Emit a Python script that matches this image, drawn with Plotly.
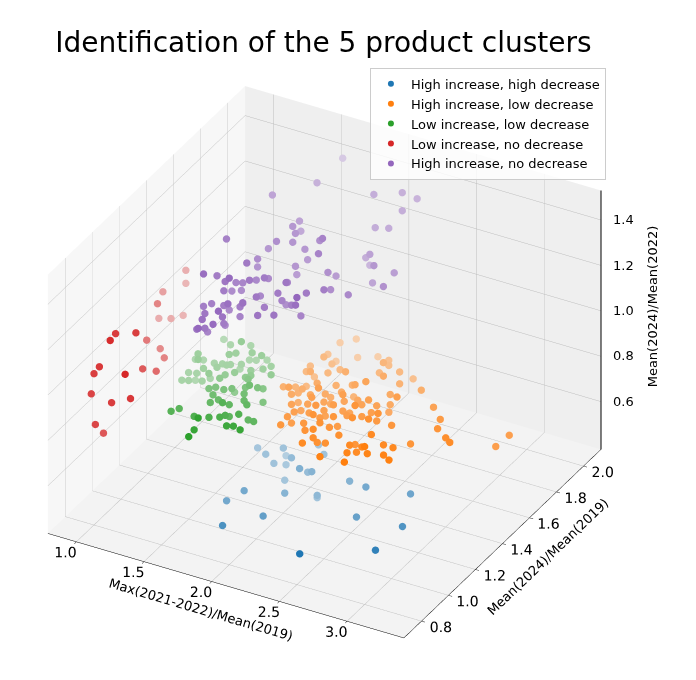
import plotly.graph_objects as go

# cluster 0 : high increase, high decrease
hh_x = [1.75, 1.82, 1.91, 1.89, 2.00, 1.88, 1.93, 2.11, 2.17, 2.11, 2.09, 2.15, 1.96, 1.86,
        1.78, 2.05, 2.22, 2.18, 2.05, 1.89, 2.48, 2.40, 2.54, 2.57, 2.90, 2.86, 2.82]
hh_y = [1.26, 1.25, 1.29, 1.33, 1.26, 1.25, 1.29, 1.21, 1.24, 1.27, 1.37, 1.35, 1.25, 1.05,
        1.00, 1.16, 1.23, 1.27, 1.00, 0.86, 0.84, 1.29, 1.27, 1.17, 1.18, 1.02, 1.32]
hh_z = [0.60, 0.59, 0.61, 0.55, 0.60, 0.56, 0.54, 0.60, 0.58, 0.55, 0.61, 0.59, 0.50, 0.55,
        0.52, 0.51, 0.49, 0.45, 0.50, 0.51, 0.50, 0.55, 0.56, 0.49, 0.50, 0.48, 0.55]

# cluster 1 : high increase, low decrease
hl_x = [1.93, 2.00, 1.93, 1.99, 2.01, 1.95, 1.90, 2.05, 2.16, 2.31, 2.34, 2.36, 1.91, 2.00,
        2.04, 2.09, 2.20, 1.92, 2.33, 2.44, 2.44, 2.49, 1.87, 1.97, 1.90, 1.99, 1.93, 2.08,
        2.17, 2.16, 2.25, 2.33, 2.40, 2.51, 2.67, 1.96, 1.95, 2.07, 2.16, 2.15, 2.16, 2.23,
        2.32, 2.26, 2.37, 2.47, 2.52, 2.64, 2.02, 1.98, 2.11, 2.23, 2.19, 2.20, 2.30, 2.30,
        2.48, 2.42, 2.51, 2.54, 2.84, 2.08, 2.07, 2.17, 2.27, 2.24, 2.35, 2.36, 2.52, 2.63,
        2.55, 2.07, 2.26, 2.24, 2.37, 2.40, 2.49, 2.61, 2.08, 2.09, 2.20, 2.33, 2.51, 2.60,
        2.71, 2.95, 2.99, 2.25, 2.33, 2.37, 2.37, 2.47, 2.34, 2.35, 2.69, 2.31, 2.40, 2.59,
        2.55, 2.67, 2.75, 2.78, 2.85, 2.86, 3.09, 3.14, 2.49, 2.62, 2.63, 2.74, 2.84, 2.90,
        2.66, 3.29, 3.34]
hl_y = [1.69, 1.74, 1.60, 1.51, 1.55, 1.64, 1.50, 1.70, 1.74, 1.67, 1.64, 1.58, 1.46, 1.40,
        1.49, 1.53, 1.46, 1.51, 1.58, 1.50, 1.62, 1.67, 1.33, 1.27, 1.39, 1.35, 1.44, 1.37,
        1.29, 1.43, 1.46, 1.40, 1.41, 1.55, 1.55, 1.30, 1.36, 1.33, 1.25, 1.36, 1.39, 1.40,
        1.32, 1.46, 1.38, 1.36, 1.47, 1.40, 1.24, 1.33, 1.27, 1.21, 1.31, 1.35, 1.27, 1.35,
        1.25, 1.36, 1.38, 1.45, 1.47, 1.20, 1.26, 1.22, 1.15, 1.26, 1.29, 1.33, 1.33, 1.27,
        1.43, 1.16, 1.21, 1.27, 1.20, 1.27, 1.29, 1.22, 1.10, 1.17, 1.15, 1.14, 1.20, 1.29,
        1.29, 1.41, 1.35, 1.11, 1.09, 1.17, 1.23, 1.14, 1.08, 1.10, 1.16, 1.03, 1.11, 1.10,
        1.18, 1.11, 1.05, 1.16, 1.16, 1.28, 1.31, 1.29, 0.98, 1.05, 1.11, 1.08, 1.10, 1.08,
        0.99, 1.48, 1.53]
hl_z = [0.85, 0.85, 0.85, 0.90, 0.85, 0.80, 0.85, 0.80, 0.80, 0.85, 0.85, 0.90, 0.85, 0.90,
        0.85, 0.85, 0.90, 0.80, 0.85, 0.90, 0.85, 0.80, 0.85, 0.90, 0.82, 0.85, 0.80, 0.88,
        0.92, 0.85, 0.85, 0.90, 0.92, 0.85, 0.85, 0.85, 0.82, 0.85, 0.90, 0.85, 0.82, 0.85,
        0.90, 0.80, 0.85, 0.88, 0.85, 0.90, 0.85, 0.80, 0.85, 0.90, 0.85, 0.82, 0.88, 0.85,
        0.92, 0.85, 0.85, 0.82, 0.85, 0.85, 0.82, 0.85, 0.90, 0.85, 0.85, 0.82, 0.85, 0.90,
        0.80, 0.85, 0.85, 0.82, 0.88, 0.85, 0.85, 0.90, 0.85, 0.82, 0.85, 0.88, 0.90, 0.85,
        0.85, 0.85, 0.85, 0.85, 0.88, 0.85, 0.82, 0.85, 0.85, 0.82, 0.88, 0.85, 0.82, 0.85,
        0.80, 0.85, 0.90, 0.85, 0.85, 0.80, 0.85, 0.85, 0.85, 0.85, 0.82, 0.85, 0.85, 0.85,
        0.85, 0.75, 0.78]

# cluster 2 : low increase, low decrease
ll_x = [1.32, 1.39, 1.50, 1.51, 1.26, 1.28, 1.44, 1.47, 1.56, 1.63, 1.21, 1.26, 1.34, 1.39,
        1.44, 1.50, 1.52, 1.56, 1.62, 1.31, 1.38, 1.42, 1.48, 1.65, 1.68, 1.21, 1.26, 1.37,
        1.47, 1.51, 1.59, 1.23, 1.19, 1.24, 1.31, 1.34, 1.46, 1.60, 1.62, 1.64, 1.73, 1.46,
        1.49, 1.55, 1.59, 1.56, 1.66, 1.71, 1.73, 1.74, 1.52, 1.58, 1.66, 1.69, 1.73, 1.78,
        1.55, 1.67, 1.77, 1.38, 1.41, 1.54, 1.64, 1.63, 1.69, 1.71, 1.70, 1.78, 1.80, 1.84,
        1.78, 1.82, 1.88, 1.62, 1.63]
ll_y = [1.44, 1.42, 1.39, 1.45, 1.31, 1.29, 1.36, 1.38, 1.41, 1.41, 1.34, 1.35, 1.35, 1.36,
        1.37, 1.39, 1.43, 1.44, 1.46, 1.30, 1.33, 1.36, 1.40, 1.40, 1.43, 1.29, 1.30, 1.28,
        1.30, 1.33, 1.37, 1.27, 1.26, 1.31, 1.29, 1.32, 1.27, 1.32, 1.34, 1.30, 1.38, 1.19,
        1.21, 1.21, 1.23, 1.28, 1.26, 1.24, 1.28, 1.31, 1.16, 1.14, 1.09, 1.22, 1.18, 1.27,
        1.11, 1.13, 1.16, 0.99, 1.02, 1.00, 0.93, 1.02, 1.04, 1.06, 1.10, 1.09, 1.14, 1.14,
        1.00, 1.01, 1.00, 0.92, 0.87]
ll_z = [0.90, 0.90, 0.95, 0.90, 0.90, 0.89, 0.90, 0.90, 0.90, 0.90, 0.85, 0.85, 0.85, 0.85,
        0.85, 0.85, 0.85, 0.85, 0.85, 0.85, 0.85, 0.85, 0.82, 0.85, 0.85, 0.82, 0.82, 0.85,
        0.85, 0.85, 0.85, 0.80, 0.80, 0.78, 0.80, 0.80, 0.85, 0.85, 0.85, 0.86, 0.85, 0.85,
        0.85, 0.85, 0.85, 0.80, 0.85, 0.88, 0.85, 0.83, 0.85, 0.85, 0.88, 0.85, 0.85, 0.80,
        0.85, 0.85, 0.85, 0.85, 0.85, 0.85, 0.90, 0.85, 0.85, 0.85, 0.82, 0.85, 0.80, 0.80,
        0.85, 0.85, 0.85, 0.85, 0.85]

# cluster 3 : low increase, no decrease
ln_x = [1.10, 1.11, 1.03, 1.07, 1.03, 1.10, 1.15, 1.01, 1.02, 1.12, 1.09, 1.15, 1.20, 0.98,
        0.95, 1.17, 1.17, 1.22, 0.96, 1.10, 1.21, 1.03, 1.06]
ln_y = [1.38, 1.37, 1.28, 1.20, 1.25, 1.27, 1.31, 0.95, 0.90, 0.99, 1.10, 1.14, 1.12, 0.86,
        0.85, 0.86, 0.99, 1.04, 0.82, 0.83, 0.86, 0.78, 0.81]
ln_z = [1.20, 1.15, 1.15, 1.15, 1.05, 1.05, 1.05, 1.15, 1.15, 1.15, 1.05, 1.00, 0.98, 1.05,
        1.02, 1.05, 1.00, 0.97, 0.95, 0.93, 0.95, 0.85, 0.80]

# cluster 4 : high increase, no decrease
hn_x = [1.48, 1.51, 1.53, 1.55, 1.58, 1.55, 1.64, 1.63, 1.59, 1.67, 1.58, 1.65, 1.69, 1.75,
        1.68, 1.79, 1.84, 1.93, 1.89, 1.94, 1.89, 1.97, 2.06, 1.57, 1.59, 1.59, 1.63, 1.55,
        1.60, 1.72, 1.69, 1.79, 1.75, 1.82, 2.05, 2.05, 1.88, 1.74, 2.05, 2.13, 2.10, 2.23,
        1.68, 1.87, 2.09, 1.66, 1.83, 2.02, 1.51, 1.52, 1.58, 1.48, 1.67, 1.64, 1.62, 1.83,
        1.49, 1.51, 1.66, 1.64, 1.52, 1.70, 1.70, 1.72, 1.74, 1.77, 1.72, 1.71, 1.78, 1.95,
        2.02, 1.85, 2.02, 1.86, 2.05, 2.20, 2.28, 2.24, 2.12, 2.20, 2.18, 2.11, 2.11, 2.27,
        2.36, 2.23, 2.38]
hn_y = [1.13, 1.16, 1.09, 1.05, 0.99, 1.07, 1.04, 1.13, 1.17, 1.12, 1.22, 1.10, 1.19, 1.15,
        1.20, 1.21, 1.17, 1.20, 1.27, 1.28, 1.30, 1.29, 1.23, 1.19, 1.18, 1.26, 1.27, 1.27,
        1.29, 1.23, 1.31, 1.27, 1.34, 1.48, 1.48, 1.54, 1.35, 1.29, 1.32, 1.37, 1.45, 1.45,
        1.22, 1.35, 1.21, 1.06, 1.23, 1.31, 1.05, 1.12, 1.19, 1.30, 1.26, 1.37, 1.39, 1.46,
        1.12, 1.20, 1.14, 1.45, 1.60, 1.75, 1.94, 1.60, 1.53, 1.52, 1.61, 1.44, 1.49, 1.52,
        1.47, 1.51, 1.44, 1.52, 1.82, 1.88, 1.91, 1.84, 1.76, 1.78, 1.66, 1.70, 1.73, 1.60,
        1.66, 1.63, 1.56]
hn_z = [1.25, 1.25, 1.25, 1.25, 1.25, 1.20, 1.25, 1.20, 1.25, 1.30, 1.20, 1.25, 1.25, 1.30,
        1.20, 1.30, 1.25, 1.25, 1.30, 1.35, 1.25, 1.25, 1.30, 1.30, 1.35, 1.30, 1.30, 1.25,
        1.25, 1.35, 1.30, 1.35, 1.30, 1.25, 1.30, 1.25, 1.30, 1.25, 1.30, 1.30, 1.25, 1.25,
        1.25, 1.20, 1.35, 1.30, 1.25, 1.20, 1.20, 1.15, 1.15, 1.45, 1.40, 1.35, 1.30, 1.30,
        1.40, 1.35, 1.40, 1.35, 1.48, 1.48, 1.48, 1.40, 1.42, 1.40, 1.35, 1.40, 1.38, 1.40,
        1.45, 1.35, 1.40, 1.30, 1.45, 1.45, 1.42, 1.40, 1.35, 1.35, 1.30, 1.25, 1.20, 1.30,
        1.25, 1.20, 1.25]

clusters = [
    ("High increase, high decrease", hh_x, hh_y, hh_z, (31, 119, 180)),
    ("High increase, low decrease", hl_x, hl_y, hl_z, (255, 127, 14)),
    ("Low increase, low decrease", ll_x, ll_y, ll_z, (44, 160, 44)),
    ("Low increase, no decrease", ln_x, ln_y, ln_z, (214, 39, 40)),
    ("High increase, no decrease", hn_x, hn_y, hn_z, (148, 103, 189)),
]

x_ticks = [1.0, 1.5, 2.0, 2.5, 3.0]
y_ticks = [0.8, 1.0, 1.2, 1.4, 1.6, 1.8, 2.0]
z_ticks = [0.6, 0.8, 1.0, 1.2, 1.4]

x_range = [0.79, 3.42]
y_range = [0.67, 2.13]
z_range = [0.39, 1.53]
eye = (0.411, -0.742, 0.530)   # ~ elev 32, azim -61 (orthographic stand-in for mpl's view)
pane = 243
box = 1.3


def depth_colors(xs, ys, zs, rgb):
    # fade far points like matplotlib's depthshade (blended, so opaque)
    d = []
    for a, b, c in zip(xs, ys, zs):
        nx = (a - x_range[0]) / (x_range[1] - x_range[0])
        ny = (b - y_range[0]) / (y_range[1] - y_range[0])
        nz = (c - z_range[0]) / (z_range[1] - z_range[0]) * 0.75
        d.append(nx * eye[0] + ny * eye[1] + nz * eye[2])
    lo, hi = min(d), max(d)
    out = []
    for v in d:
        alpha = 1 - 0.7 * (hi - v) / (hi - lo)
        r, g, b = [round(ch * alpha + pane * (1 - alpha)) for ch in rgb]
        out.append("rgb(%d,%d,%d)" % (r, g, b))
    return out


fig = go.Figure()
for name, xs, ys, zs, rgb in clusters:
    fig.add_trace(go.Scatter3d(
        x=xs, y=ys, z=zs, mode="markers", name=name, showlegend=False,
        marker=dict(size=4.3, color=depth_colors(xs, ys, zs, rgb), line=dict(width=0)),
    ))
    # legend entry in the full colour
    fig.add_trace(go.Scatter3d(
        x=[None], y=[None], z=[None], mode="markers", name=name,
        marker=dict(size=6, color="rgb(%d,%d,%d)" % rgb),
    ))

# z axis drawn on the right-hand vertical edge, as matplotlib does
fig.add_trace(go.Scatter3d(
    x=[x_range[1], x_range[1]], y=[y_range[1], y_range[1]], z=z_range,
    mode="lines", line=dict(color="black", width=2), showlegend=False, hoverinfo="skip",
))

z_notes = [dict(x=x_range[1], y=y_range[1], z=t, text="%.1f" % t, showarrow=False,
                xanchor="left", xshift=10, font=dict(size=13, color="black"))
           for t in z_ticks]
z_notes.append(dict(x=x_range[1], y=y_range[1], z=1.02,
                    text="Mean(2024)/Mean(2022)", showarrow=False, textangle=-90,
                    xshift=52, font=dict(size=13, color="black")))

axis_common = dict(
    showbackground=True, gridcolor="#bdbdbd", gridwidth=1,
    showline=True, linecolor="black", linewidth=1,
    ticks="outside", tickcolor="black", ticklen=4, tickangle=0,
    tickfont=dict(size=13, color="black"), tickformat=".1f",
    zeroline=False, showspikes=False,
)

fig.update_layout(
    width=696, height=680,
    margin=dict(l=0, r=0, t=0, b=0),
    paper_bgcolor="white",
    font=dict(family="DejaVu Sans", color="black"),
    title=dict(text="Identification of the 5 product clusters", x=0.068, xanchor="left",
               y=0.95, yanchor="middle", font=dict(size=28, color="black")),
    legend=dict(x=0.52, y=0.912, xanchor="left", yanchor="top", bgcolor="rgba(255,255,255,0.8)",
                bordercolor="#cccccc", borderwidth=1, font=dict(size=13)),
    scene=dict(
        domain=dict(x=[0, 0.91], y=[0.02, 0.94]),
        xaxis=dict(axis_common, range=x_range, tickvals=x_ticks,
                   title=dict(text="Max(2021-2022)/Mean(2019)", font=dict(size=13)),
                   backgroundcolor="#f7f7f7"),
        yaxis=dict(axis_common, range=y_range, tickvals=y_ticks,
                   title=dict(text="Mean(2024)/Mean(2019)", font=dict(size=13)),
                   backgroundcolor="#efefef"),
        zaxis=dict(axis_common, range=z_range, tickvals=z_ticks, showline=False,
                   showticklabels=False, ticks="", title=dict(text=""),
                   backgroundcolor="#f3f3f3"),
        aspectmode="manual", aspectratio=dict(x=box, y=box, z=0.75 * box),
        camera=dict(eye=dict(x=eye[0] * 2, y=eye[1] * 2, z=eye[2] * 2),
                    center=dict(x=0, y=0, z=0), up=dict(x=0, y=0, z=1),
                    projection=dict(type="orthographic")),
        annotations=z_notes,
    ),
)

fig.write_html("out.html")
